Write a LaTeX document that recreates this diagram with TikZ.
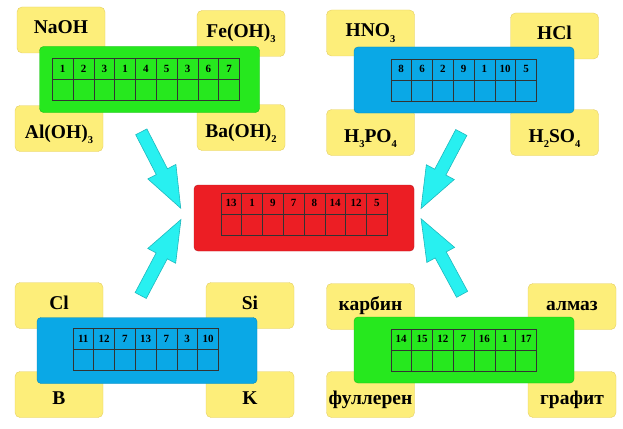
\documentclass[tikz,border=0pt]{standalone}
\usepackage{fontspec}
\setmainfont{Liberation Serif}
\usetikzlibrary{positioning, shapes.arrows, calc}
\definecolor{chemyellow}{RGB}{253,238,122}
\definecolor{chemyellowline}{RGB}{228,206,100}
\definecolor{chemgreen}{RGB}{38,232,30}
\definecolor{chemblue}{RGB}{10,168,230}
\definecolor{chemred}{RGB}{236,30,36}
\definecolor{chemcyan}{RGB}{40,240,240}
\definecolor{chemteal}{RGB}{30,185,190}

% low index in a formula
\newcommand{\chemsub}[1]{\raisebox{-5.5pt}{\fontsize{10.5}{11}\selectfont #1}}
% one row of numbers over one empty row
\newcommand{\numtable}[3]{%
  \foreach \n [count=\i] in {#3} {
    \node[cell, anchor=north west, xshift={(\i-1)*20.8pt}] (#1-top-\i) at (#2) {\n};
    \node[cell, below=0pt of #1-top-\i] (#1-bot-\i) {};
  }}

\begin{document}
\begin{tikzpicture}[x=1pt, y=-1pt,
    reagent/.style={rectangle, rounded corners=5pt, draw=chemyellowline, fill=chemyellow, minimum width=88pt, minimum height=46pt, inner sep=0pt, text height=13pt, text depth=5pt, font=\fontsize{19.5}{22}\selectfont\bfseries},
    lowtext/.style={text height=20pt, text depth=1pt},
    panel/.style={rectangle, rounded corners=4pt, draw=#1!80!black, fill=#1, minimum width=220pt, minimum height=66pt},
    cell/.style={rectangle, draw=black!80, line width=0.5pt, minimum width=20.8pt, minimum height=21pt, inner sep=0pt, outer sep=0pt, font=\fontsize{11}{13}\selectfont\bfseries},
    blockarrow/.style={single arrow, draw=chemteal, fill=chemcyan, line width=0.6pt, minimum height=86pt, inner sep=6pt, single arrow head extend=9.5pt, single arrow tip angle=42, sloped, allow upside down}
]
\useasboundingbox (0,0) rectangle (623,428);

% bases
\node[reagent] (naoh) at (61,30) {NaOH};
\node[reagent] (feoh) at (241,33.5) {Fe(OH)\chemsub{3}};
\node[reagent, lowtext] (aloh) at (59,128.5) {Al(OH)\chemsub{3}};
\node[reagent, lowtext] (baoh) at (241,127.5) {Ba(OH)\chemsub{2}};
% acids
\node[reagent] (hno) at (370.5,33) {HNO\chemsub{3}};
\node[reagent] (hcl) at (554.5,36) {HCl};
\node[reagent, lowtext] (hpo) at (370.5,132.5) {H\chemsub{3}PO\chemsub{4}};
\node[reagent, lowtext] (hso) at (554.5,132.5) {H\chemsub{2}SO\chemsub{4}};
% elements
\node[reagent] (cl) at (59,305.5) {Cl};
\node[reagent] (si) at (250,305.5) {Si};
\node[reagent, lowtext] (b) at (59,394.5) {B};
\node[reagent, lowtext] (k) at (250,394.5) {K};
% carbon
\node[reagent] (karbin) at (370.5,306.5) {карбин};
\node[reagent] (almaz) at (572,306.5) {алмаз};
\node[reagent, lowtext] (fulleren) at (370.5,394.5) {фуллерен};
\node[reagent, lowtext] (grafit) at (572,394.5) {графит};

\node[panel=chemgreen] (bases) at (149.5,79.5) {};
\node[panel=chemblue] (acids) at (464,80) {};
\node[panel=chemred] (result) at (304,218) {};
\node[panel=chemblue] (elements) at (147,350.5) {};
\node[panel=chemgreen] (carbon) at (464,350) {};

\numtable{bt}{$(bases.north west)+(13,12)$}{1,2,3,1,4,5,3,6,7}
\numtable{at}{$(acids.north west)+(37,12)$}{8,6,2,9,1,10,5}
\numtable{rt}{$(result.north west)+(27,8)$}{13,1,9,7,8,14,12,5}
\numtable{et}{$(elements.north west)+(36,11)$}{11,12,7,13,7,3,10}
\numtable{ct}{$(carbon.north west)+(37,12)$}{14,15,12,7,16,1,17}

\coordinate (bases tail) at (137.5,124.5);
\coordinate (bases tip) at (177,201);
\coordinate (acids tail) at (465,125.5);
\coordinate (acids tip) at (425,201);
\coordinate (elements tail) at (137,302.5);
\coordinate (elements tip) at (177,227);
\coordinate (carbon tail) at (466,301.5);
\coordinate (carbon tip) at (425,226);
\path (bases tail) -- node[blockarrow] (bases arrow) {} (bases tip);
\path (acids tail) -- node[blockarrow] (acids arrow) {} (acids tip);
\path (elements tail) -- node[blockarrow] (elements arrow) {} (elements tip);
\path (carbon tail) -- node[blockarrow] (carbon arrow) {} (carbon tip);
\end{tikzpicture}
\end{document}
